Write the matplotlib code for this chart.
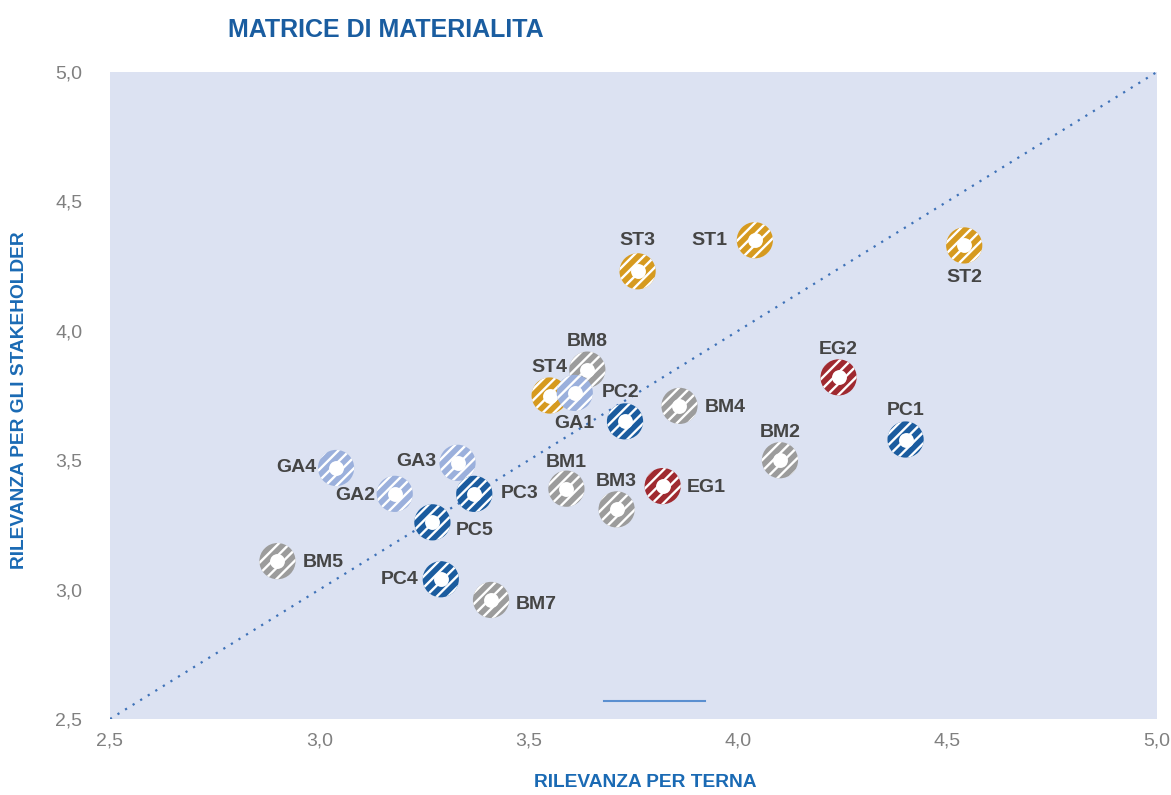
import matplotlib.pyplot as plt

plt.rcParams['font.family'] = ['Liberation Sans', 'DejaVu Sans']
plt.rcParams['hatch.color'] = 'white'
plt.rcParams['hatch.linewidth'] = 1.7

# data (terna relevance, stakeholder relevance)
st_names = ["ST1", "ST2", "ST3", "ST4"]
st_x = [4.04, 4.54, 3.76, 3.55]
st_y = [4.35, 4.33, 4.23, 3.75]

bm_names = ["BM1", "BM2", "BM3", "BM4", "BM5", "BM7", "BM8"]
bm_x = [3.59, 4.10, 3.71, 3.86, 2.90, 3.41, 3.64]
bm_y = [3.39, 3.50, 3.31, 3.71, 3.11, 2.96, 3.85]

ga_names = ["GA1", "GA2", "GA3", "GA4"]
ga_x = [3.61, 3.18, 3.33, 3.04]
ga_y = [3.76, 3.37, 3.49, 3.47]

pc_names = ["PC1", "PC2", "PC3", "PC4", "PC5"]
pc_x = [4.40, 3.73, 3.37, 3.29, 3.27]
pc_y = [3.58, 3.65, 3.37, 3.04, 3.26]

eg_names = ["EG1", "EG2"]
eg_x = [3.82, 4.24]
eg_y = [3.40, 3.82]

ticks = [2.5, 3.0, 3.5, 4.0, 4.5, 5.0]
tick_labels = ["2,5", "3,0", "3,5", "4,0", "4,5", "5,0"]

# label placement: (dx, dy) in points, ha, va
label_pos = {
    "ST1": (-20, 0, "right", "center"), "ST2": (0, -17, "center", "top"),
    "ST3": (0, 16, "center", "bottom"), "ST4": (0, 14, "center", "bottom"),
    "BM1": (0, 13, "center", "bottom"), "BM2": (0, 14, "center", "bottom"),
    "BM3": (0, 14, "center", "bottom"), "BM4": (18, -1, "left", "center"),
    "BM5": (18, -1, "left", "center"), "BM7": (18, -3, "left", "center"),
    "BM8": (0, 14, "center", "bottom"),
    "GA1": (0, -16, "center", "top"), "GA2": (-14, -1, "right", "center"),
    "GA3": (-15, 1, "right", "center"), "GA4": (-14, 0, "right", "center"),
    "PC1": (0, 15, "center", "bottom"), "PC2": (-3, 15, "center", "bottom"),
    "PC3": (19, 0, "left", "center"), "PC4": (-16, 0, "right", "center"),
    "PC5": (17, -6, "left", "center"),
    "EG1": (17, -1, "left", "center"), "EG2": (0, 14, "center", "bottom"),
}

fig = plt.figure(figsize=(11.71, 7.95), dpi=100)
ax = fig.add_axes([0.0939, 0.0956, 0.894, 0.8138])
ax.set_facecolor('#dce2f2')
for s in ax.spines.values():
    s.set_visible(False)

ax.plot([2.5, 5.0], [2.5, 5.0], linestyle=(0, (1, 3)), color='#3f72b8', lw=1.6, zorder=1)
ax.plot([3.68, 3.92], [2.57, 2.57], color='#5b8fd0', lw=1.5, zorder=1)

groups = [
    (st_names, st_x, st_y, '#d69a1f'),
    (bm_names, bm_x, bm_y, '#9c9c9c'),
    (ga_names, ga_x, ga_y, '#9bb0dc'),
    (pc_names, pc_x, pc_y, '#1b5c9f'),
    (eg_names, eg_x, eg_y, '#a02a30'),
]
z = 3
for names, xs, ys, col in groups:
    ax.scatter(xs, ys, s=680, facecolor=col, edgecolor='white', linewidth=0,
               hatch='///', zorder=z)
    ax.scatter(xs, ys, s=115, color='white', linewidth=0, zorder=z + 0.5)
    for n, x, y in zip(names, xs, ys):
        dx, dy, ha, va = label_pos[n]
        ax.annotate(n, (x, y), xytext=(dx, dy), textcoords='offset points',
                    ha=ha, va=va, fontsize=14, fontweight='bold',
                    color='#454545', zorder=10)
    z += 1

ax.set_xlim(2.5, 5.0)
ax.set_ylim(2.5, 5.0)
ax.set_xticks(ticks)
ax.set_xticklabels(tick_labels)
ax.set_yticks(ticks)
ax.set_yticklabels(tick_labels)
ax.tick_params(length=0, labelsize=14, labelcolor='#808080')
ax.tick_params(axis='y', pad=20)
ax.tick_params(axis='x', pad=10)

fig.text(0.195, 0.962, "MATRICE DI MATERIALITA", fontsize=18, fontweight='bold',
         color='#1a5da0', ha='left', va='center')
fig.text(0.551, 0.016, "RILEVANZA PER TERNA", fontsize=13.8, fontweight='bold',
         color='#1a6ab4', ha='center', va='center')
fig.text(0.017, 0.497, "RILEVANZA PER GLI STAKEHOLDER", fontsize=13.8,
         fontweight='bold', color='#1a6ab4', ha='center', va='center',
         rotation=90)

fig.savefig('out.png', dpi=100, facecolor='white')
